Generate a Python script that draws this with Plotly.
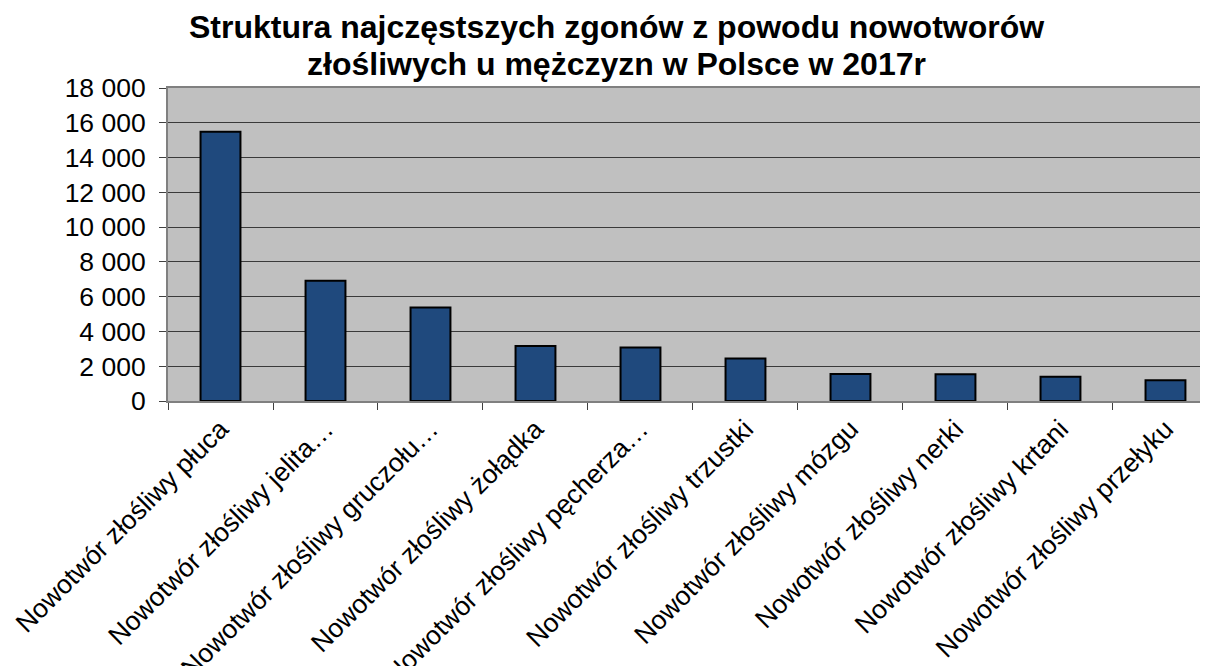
import plotly.graph_objects as go

categories = [
    "Nowotwór złośliwy płuca",
    "Nowotwór złośliwy jelita…",
    "Nowotwór złośliwy gruczołu…",
    "Nowotwór złośliwy żołądka",
    "Nowotwór złośliwy pęcherza…",
    "Nowotwór złośliwy trzustki",
    "Nowotwór złośliwy mózgu",
    "Nowotwór złośliwy nerki",
    "Nowotwór złośliwy krtani",
    "Nowotwór złośliwy przełyku",
]
deaths = [15480, 6920, 5370, 3170, 3070, 2440, 1550, 1540, 1400, 1200]

title_line1 = "Struktura najczęstszych zgonów z powodu nowotworów"
title_line2 = "złośliwych u mężczyzn w Polsce w 2017r"

FONT = "Liberation Sans, Arial, sans-serif"

fig = go.Figure(
    go.Bar(
        x=categories,
        y=deaths,
        marker=dict(color="#1F497D", line=dict(color="#000000", width=2)),
    )
)

# the page adds an 8px body margin, so the figure is 8px smaller than the window
fig.update_layout(
    width=1200,
    height=658,
    margin=dict(l=160, r=0, t=80, b=265, autoexpand=False),
    paper_bgcolor="#FFFFFF",
    plot_bgcolor="#C0C0C0",
    bargap=0.62,
    separators=", ",
    showlegend=False,
    font=dict(family=FONT, color="#000000"),
    annotations=[
        dict(text="<b>" + title_line1 + "</b>", x=0.4308, y=1.194, xref="paper", yref="paper",
             xanchor="center", yanchor="middle", showarrow=False,
             font=dict(family=FONT, size=32, color="#000000")),
        dict(text="<b>" + title_line2 + "</b>", x=0.4308, y=1.076, xref="paper", yref="paper",
             xanchor="center", yanchor="middle", showarrow=False,
             font=dict(family=FONT, size=32, color="#000000")),
    ],
)

fig.update_xaxes(
    type="category",
    automargin=False,
    range=[-0.5, 9.405],
    tickangle=-45,
    tickson="boundaries",
    ticks="outside",
    ticklen=7,
    tickwidth=1,
    tickcolor="#404040",
    showgrid=False,
    showline=True,
    linecolor="#808080",
    linewidth=2,
    mirror=True,
    tickfont=dict(family=FONT, size=26.5, color="#000000"),
)

fig.update_yaxes(
    automargin=False,
    range=[0, 18000],
    dtick=2000,
    tickformat=",d",
    ticks="outside",
    ticklen=7,
    tickwidth=1,
    tickcolor="#404040",
    showgrid=True,
    gridcolor="#3a3a3a",
    gridwidth=1,
    showline=True,
    linecolor="#808080",
    linewidth=2,
    mirror=True,
    zeroline=False,
    ticklabelstandoff=8,
    tickfont=dict(family=FONT, size=26.5, color="#000000"),
)

fig.write_html("out.html")
